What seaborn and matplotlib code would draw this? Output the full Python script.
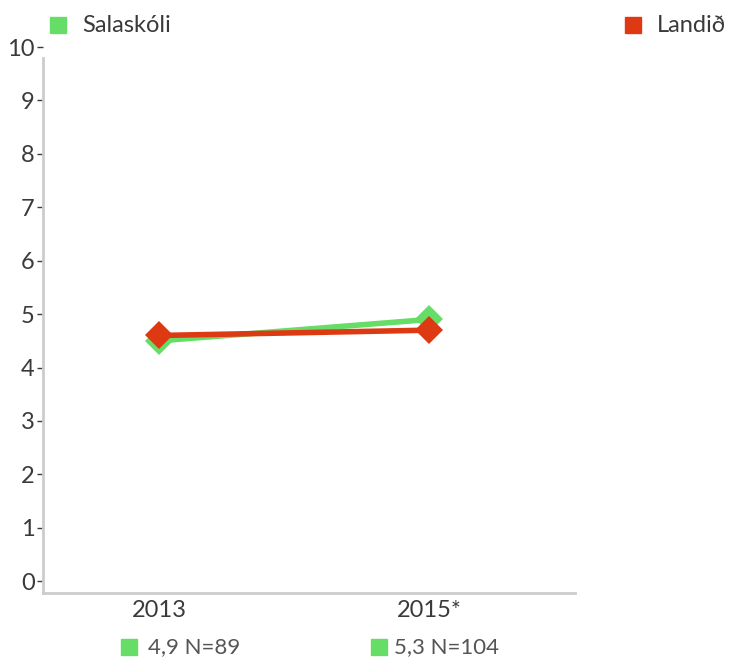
import matplotlib
matplotlib.use("Agg")
import matplotlib.pyplot as plt
import seaborn as sns
import pandas as pd
from matplotlib.lines import Line2D

# data
years = ["2013", "2015*"]
salaskoli = [4.5, 4.9]
landid = [4.6, 4.7]
notes = ["4,9 N=89", "5,3 N=104"]

GREEN = "#66dd66"
RED = "#dd3a14"
TXT = "#3a3a3a"
W, H = 739, 657

df = pd.DataFrame({
    "year": years * 2,
    "value": salaskoli + landid,
    "group": ["Salaskóli"] * 2 + ["Landið"] * 2,
})

sns.set_style("white")
plt.rcParams["font.family"] = ["Lato", "DejaVu Sans"]

fig = plt.figure(figsize=(W / 100, H / 100), dpi=100)
ax = fig.add_axes([43 / W, 64 / H, (575 - 43) / W, (593 - 47) / H])

sns.lineplot(data=df, x="year", y="value", hue="group", style="group",
             palette={"Salaskóli": GREEN, "Landið": RED},
             markers={"Salaskóli": "D", "Landið": "D"}, dashes=False,
             linewidth=4, markersize=14, markeredgewidth=0,
             legend=False, ax=ax)

ax.set_xlim(-0.43, 1.54)
ax.set_ylim(-0.22, 10)
ax.set_yticks(range(0, 11))
ax.set_xlabel("")
ax.set_ylabel("")

for s in ["top", "right"]:
    ax.spines[s].set_visible(False)
for s in ["left", "bottom"]:
    ax.spines[s].set_color("#cccccc")
    ax.spines[s].set_linewidth(2)
ax.spines["left"].set_bounds(-0.22, 9.8)

ax.tick_params(axis="y", length=4, width=1, color=TXT, labelsize=17,
               labelcolor=TXT, pad=2, left=True)
ax.tick_params(axis="x", length=0, labelsize=17, labelcolor=TXT, pad=5)

# N notes under the x labels (marker x, text x in pixels)
note_pos = [(129, 148), (379, 394)]
for note, (mx, tx) in zip(notes, note_pos):
    fig.add_artist(Line2D([mx / W], [10 / H], marker="s", color=GREEN,
                          markersize=11, transform=fig.transFigure))
    fig.text(tx / W, 10 / H, note, fontsize=16, color="#555555",
             va="center", ha="left")

# legend entries at the top
legend_pos = [("Salaskóli", GREEN, 58, 82), ("Landið", RED, 633, 657)]
for name, col, mx, tx in legend_pos:
    fig.add_artist(Line2D([mx / W], [(H - 25) / H], marker="s", color=col,
                          markersize=11, transform=fig.transFigure))
    fig.text(tx / W, (H - 25) / H, name, fontsize=17, color=TXT,
             va="center", ha="left")

fig.savefig("out.png", dpi=100)
